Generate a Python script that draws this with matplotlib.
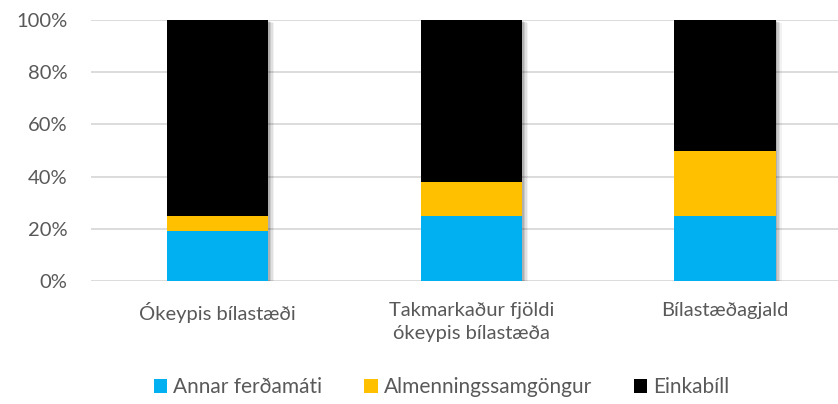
import matplotlib
matplotlib.use("Agg")
import matplotlib.pyplot as plt
import matplotlib.transforms as mtransforms
import numpy as np

categories = ["Ókeypis bílastæði", "Takmarkaður fjöldi\nókeypis bílastæða", "Bílastæðagjald"]
annar = [19, 25, 25]
almenn = [6, 13, 25]
einka = [75, 62, 50]
series_names = ["Annar ferðamáti", "Almenningssamgöngur", "Einkabíll"]
colors = ["#00B0F0", "#FFC000", "#000000"]

plt.rcParams['font.family'] = ['Lato', 'DejaVu Sans']
fig = plt.figure(figsize=(8.38, 4.04), dpi=100)
ax = fig.add_axes([91/838, 1-281/404, (838-91)/838, 261/404])

x = np.arange(len(categories))
w = 0.40
bottom = np.zeros(len(categories))
handles = []
for vals, name, c in zip([annar, almenn, einka], series_names, colors):
    bars = ax.bar(x, vals, w, bottom=bottom, color=c, label=name, zorder=3)
    handles.append(bars)
    bottom += np.array(vals)

# soft drop shadow behind each full stacked bar
totals = bottom.copy()
for dpx, alpha in [(6, 0.05), (4.5, 0.07), (3, 0.10), (1.5, 0.12)]:
    tr = ax.transData + mtransforms.ScaledTranslation(dpx / 100, -dpx * 0.5 / 100, fig.dpi_scale_trans)
    ax.bar(x, totals, w, color='#000000', alpha=alpha, zorder=2, linewidth=0, transform=tr)

ax.set_ylim(0, 100)
ax.set_xlim(-0.5, 2.446)
ax.set_yticks(range(0, 101, 20))
ax.set_yticklabels([f"{v}%" for v in range(0, 101, 20)])
ax.set_xticks(x)
ax.set_xticklabels(categories, linespacing=1.45)
ax.grid(axis='y', color='#D9D9D9', linewidth=1.3, zorder=0)
for s in ax.spines.values():
    s.set_visible(False)
ax.tick_params(axis='both', length=0, labelsize=14.5, labelcolor='#595959')
ax.tick_params(axis='y', pad=17)
ax.tick_params(axis='x', pad=15)

leg = fig.legend(handles=handles, labels=series_names, loc='center', bbox_to_anchor=(0.527, 1-387/404), ncol=3, frameon=False,
                 fontsize=15, handlelength=0.65, handleheight=0.65, handletextpad=0.3,
                 columnspacing=2.0, labelcolor='#595959')

fig.savefig("out.png", dpi=100)
